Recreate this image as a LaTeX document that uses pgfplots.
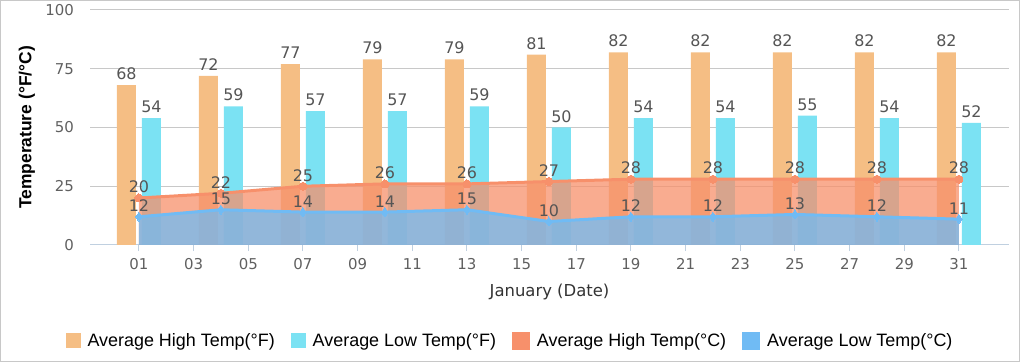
\documentclass[border=0pt]{standalone}
\usepackage{fontspec}
\usepackage{pgfplots}
\pgfplotsset{compat=1.18}
\setmainfont{Liberation Sans}
\newfontfamily\dvs{DejaVu Sans}
\definecolor{hiF}{HTML}{F5BE84}
\definecolor{loF}{HTML}{7BE2F3}
\definecolor{hiC}{HTML}{F7906B}
\definecolor{loC}{HTML}{70BBF4}
\definecolor{gridc}{HTML}{C8C8C8}
\definecolor{axisc}{HTML}{C0D0E0}
\definecolor{tickc}{HTML}{606060}
\definecolor{lblc}{HTML}{555555}
\definecolor{framec}{HTML}{C8C8C8}
\begin{document}
\begin{tikzpicture}
\path[use as bounding box] (0,0) rectangle (1020bp,362bp);
\draw[framec, line width=1bp] (0.5bp,0.5bp) rectangle (1019.5bp,361.5bp);
\begin{axis}[
 at={(90bp,117bp)}, anchor=south west,
 scale only axis, width=919bp, height=235bp,
 xmin=-0.79, xmax=32.83, ymin=0, ymax=100,
 axis x line*=bottom, axis y line*=left,
 x axis line style={draw=axisc, line width=1bp, -},
 y axis line style={draw=none, -},
 xtick={1,3,...,31},
 xticklabels={01,03,05,07,09,11,13,15,17,19,21,23,25,27,29,31},
 ytick={0,25,50,75,100},
 tick align=outside,
 xtick style={draw=axisc, line width=1bp},
 major tick length=6bp,
 ytick style={draw=none},
 ymajorgrids, grid style={draw=gridc, line width=1bp},
 /pgf/number format/assume math mode=true,
 ticklabel style={font=\dvs\fontsize{15}{18}\selectfont, text=tickc},
 xticklabel style={anchor=north, inner sep=0pt, yshift=-7.5bp},
 yticklabel style={anchor=east, inner sep=0pt, xshift=-10bp},
 ylabel={Temperature (°F/°C)},
 every axis y label/.style={at={(axis description cs:-0.0686,0.5)}, rotate=90, anchor=center, font=\bfseries\fontsize{17.5}{21}\selectfont, text=black},
 xlabel={January (Date)},
 every axis x label/.style={at={(axis description cs:0.5,-0.2)}, anchor=center, font=\dvs\fontsize{16.5}{20}\selectfont, text=black!80},
 every node near coord/.style={font=\dvs\fontsize{16}{19}\selectfont, text=lblc, anchor=south, inner sep=0pt, yshift=5bp},
 legend columns=4,
 legend style={at={(axis description cs:0.457,-0.4085)}, anchor=center, draw=none, fill=none,
   font=\fontsize{18}{21}\selectfont,
   /tikz/every odd column/.append style={column sep=5bp},
   /tikz/every even column/.append style={column sep=14bp}},
 legend cell align=left,
]
\addplot[ybar, bar width=19bp, bar shift=-12.5bp, fill=hiF, draw=none, nodes near coords,
  every node near coord/.append style={xshift=-12.5bp},
  legend image code/.code={\fill[hiF] (0bp,-7.5bp) rectangle (15bp,7.5bp);}]
 coordinates {(1,68) (4,72) (7,77) (10,79) (13,79) (16,81) (19,82) (22,82) (25,82) (28,82) (31,82)};
\addlegendentry{Average High Temp(°F)}
\addplot[ybar, bar width=19bp, bar shift=12.5bp, fill=loF, draw=none, nodes near coords,
  every node near coord/.append style={xshift=12.5bp},
  legend image code/.code={\fill[loF] (0bp,-7.5bp) rectangle (15bp,7.5bp);}]
 coordinates {(1,54) (4,59) (7,57) (10,57) (13,59) (16,50) (19,54) (22,54) (25,55) (28,54) (31,52)};
\addlegendentry{Average Low Temp(°F)}
\addplot[forget plot, draw=none, fill=hiC, fill opacity=0.75]
 coordinates {(1,20) (4,22) (7,25) (10,26) (13,26) (16,27) (19,28) (22,28) (25,28) (28,28) (31,28)} \closedcycle;
\addplot[draw=hiC, line width=3bp, mark=*, mark size=4bp, mark options={fill=hiC, draw=hiC, line width=0pt}, nodes near coords,
  legend image code/.code={\fill[hiC] (0bp,-7.5bp) rectangle (15bp,7.5bp);}]
 coordinates {(1,20) (4,22) (7,25) (10,26) (13,26) (16,27) (19,28) (22,28) (25,28) (28,28) (31,28)};
\addlegendentry{Average High Temp(°C)}
\addplot[forget plot, draw=none, fill=loC, fill opacity=0.75]
 coordinates {(1,12) (4,15) (7,14) (10,14) (13,15) (16,10) (19,12) (22,12) (25,13) (28,12) (31,11)} \closedcycle;
\addplot[draw=loC, line width=3bp, mark=diamond*, mark size=4.5bp, mark options={fill=loC, draw=loC, line width=0pt}, nodes near coords,
  legend image code/.code={\fill[loC] (0bp,-7.5bp) rectangle (15bp,7.5bp);}]
 coordinates {(1,12) (4,15) (7,14) (10,14) (13,15) (16,10) (19,12) (22,12) (25,13) (28,12) (31,11)};
\addlegendentry{Average Low Temp(°C)}
\end{axis}
\end{tikzpicture}
\end{document}
